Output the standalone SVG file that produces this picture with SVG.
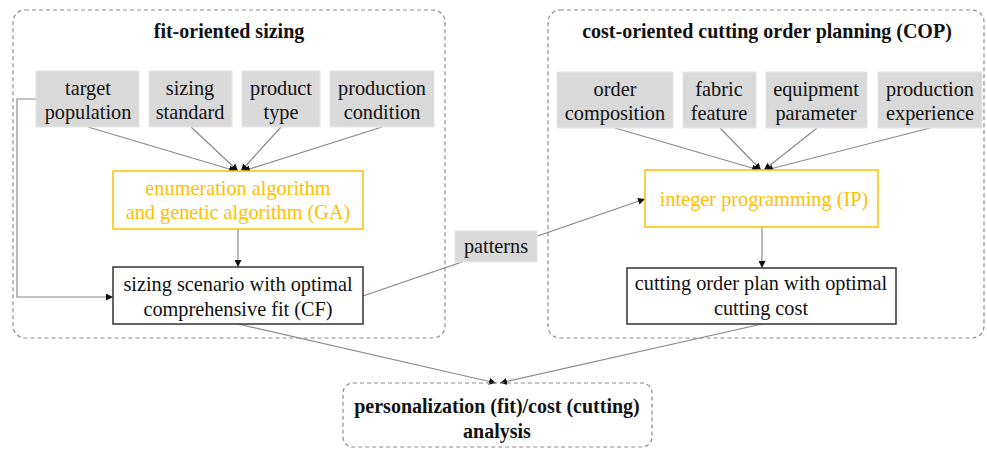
<svg xmlns="http://www.w3.org/2000/svg" width="987" height="450" viewBox="0 0 987 450">
<style>
text{font-family:"Liberation Serif","Times New Roman",serif;font-size:20.3px;text-anchor:middle;fill:#111}
.title{font-weight:bold;font-size:20px}
.grp{fill:none;stroke:#8c8c8c;stroke-width:1.2;stroke-dasharray:4 3}
.gray{fill:#d9d9d9;stroke:#e6e6e6;stroke-width:1}
.ybox{fill:#fff;stroke:#ffc000;stroke-width:1.5}
.ytxt{fill:#ffc000}
.bbox{fill:#fff;stroke:#333;stroke-width:1.5}
.con{fill:none;stroke:#8a8a8a;stroke-width:1.2;marker-end:url(#ah)}
</style>
<defs>
<marker id="ah" viewBox="0 0 10 10" refX="10" refY="5" markerWidth="7" markerHeight="7" markerUnits="userSpaceOnUse" orient="auto">
<path d="M0,0L10,5L0,10z" fill="#111"/>
</marker>
</defs>
<rect width="987" height="450" fill="#fff"/>
<g id="group-fit">
<rect class="grp" x="13" y="10" width="432" height="328" rx="12"/>
<text class="title" x="229" y="38">fit-oriented sizing</text>
</g>
<g id="group-cop">
<rect class="grp" x="548" y="10" width="436" height="328" rx="12"/>
<text class="title" x="767" y="38">cost-oriented cutting order planning (COP)</text>
</g>
<g id="connectors">
<line class="con" x1="88" y1="127" x2="236" y2="171"/>
<line class="con" x1="191" y1="127" x2="238" y2="171"/>
<line class="con" x1="281" y1="127" x2="241" y2="171"/>
<line class="con" x1="382" y1="127" x2="243" y2="171"/>
<line class="con" x1="238" y1="229" x2="238" y2="267"/>
<polyline class="con" points="36,99 17,99 17,297 113,297"/>
<line class="con" x1="363" y1="296" x2="645" y2="199"/>
<line class="con" x1="615" y1="128" x2="759" y2="170"/>
<line class="con" x1="720" y1="128" x2="761" y2="170"/>
<line class="con" x1="817" y1="128" x2="764" y2="170"/>
<line class="con" x1="930" y1="128" x2="766" y2="170"/>
<line class="con" x1="762" y1="227" x2="762" y2="268"/>
<line class="con" x1="238" y1="324" x2="496" y2="383"/>
<line class="con" x1="762" y1="324" x2="500" y2="383"/>
</g>
<g id="target-population">
<rect class="gray" x="36" y="71" width="103" height="56"/>
<text x="88" y="95">target</text>
<text x="88" y="119">population</text>
</g>
<g id="sizing-standard">
<rect class="gray" x="149" y="71" width="83" height="56"/>
<text x="190" y="95">sizing</text>
<text x="190" y="119">standard</text>
</g>
<g id="product-type">
<rect class="gray" x="242" y="71" width="78" height="56"/>
<text x="281" y="95">product</text>
<text x="281" y="119">type</text>
</g>
<g id="production-condition">
<rect class="gray" x="330" y="71" width="104" height="56"/>
<text x="382" y="95">production</text>
<text x="382" y="119">condition</text>
</g>
<g id="ga">
<rect class="ybox" x="113" y="171" width="250" height="58"/>
<text class="ytxt" x="238" y="195">enumeration algorithm</text>
<text class="ytxt" x="238" y="219">and genetic algorithm (GA)</text>
</g>
<g id="sizing-scenario">
<rect class="bbox" x="113" y="267" width="250" height="57"/>
<text x="238" y="291">sizing scenario with optimal</text>
<text x="238" y="316">comprehensive fit (CF)</text>
</g>
<g id="patterns">
<rect class="gray" x="455" y="231" width="82" height="31"/>
<text x="496" y="253">patterns</text>
</g>
<g id="order-composition">
<rect class="gray" x="557" y="72" width="116" height="56"/>
<text x="615" y="96">order</text>
<text x="615" y="120">composition</text>
</g>
<g id="fabric-feature">
<rect class="gray" x="683" y="72" width="73" height="56"/>
<text x="719" y="96">fabric</text>
<text x="719" y="120">feature</text>
</g>
<g id="equipment-parameter">
<rect class="gray" x="766" y="72" width="101" height="56"/>
<text x="816" y="96">equipment</text>
<text x="816" y="120">parameter</text>
</g>
<g id="production-experience">
<rect class="gray" x="878" y="72" width="104" height="56"/>
<text x="930" y="96">production</text>
<text x="930" y="120">experience</text>
</g>
<g id="ip">
<rect class="ybox" x="645" y="170" width="233" height="57"/>
<text class="ytxt" x="764" y="206">integer programming (IP)</text>
</g>
<g id="cutting-plan">
<rect class="bbox" x="627" y="268" width="269" height="56"/>
<text x="761" y="290">cutting order plan with optimal</text>
<text x="761" y="315">cutting cost</text>
</g>
<g id="analysis">
<rect class="grp" x="343" y="383" width="309" height="64" rx="10"/>
<text class="title" x="497" y="413">personalization (fit)/cost (cutting)</text>
<text class="title" x="497" y="438">analysis</text>
</g>
</svg>
